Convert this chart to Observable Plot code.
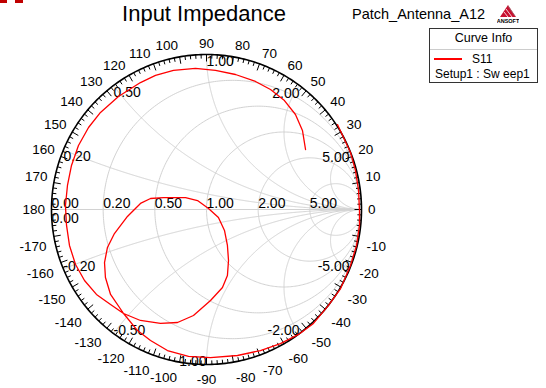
<!DOCTYPE html>
<html><head><meta charset="utf-8">
<script src="https://cdn.jsdelivr.net/npm/d3@7"></script>
<script src="https://cdn.jsdelivr.net/npm/@observablehq/plot@0.6"></script>
<style>
body{margin:0;background:#fff;font-family:"Liberation Sans",Arial,sans-serif;}
#wrap{position:relative;width:546px;height:388px;overflow:hidden;background:#fff;}
#wrap svg.plot{position:absolute;left:0;top:0;}
.abs{position:absolute;white-space:nowrap;color:#000;}
</style></head><body>
<div id="wrap">
  <div class="abs" style="left:0;top:0;width:7px;height:3px;background:#c00000;"></div>
  <div class="abs" style="left:15px;top:0;width:8px;height:3px;background:#c00000;"></div>
  <div class="abs" id="title" style="left:104px;top:3px;width:200px;text-align:center;font-size:22px;line-height:22px;"></div>
  <div class="abs" id="proj" style="left:352px;top:7px;font-size:14.5px;line-height:14px;"></div>
  <div class="abs" style="left:497px;top:4px;width:22px;height:20px;">
    <svg width="22" height="20" viewBox="0 0 22 20">
      <polygon points="11,1 19,13 3,13" fill="#c8102e"/>
      <line x1="9" y1="5" x2="15" y2="13" stroke="#fff" stroke-width="0.8"/>
      <line x1="7" y1="8" x2="11" y2="13" stroke="#fff" stroke-width="0.8"/>
      <line x1="11" y1="2" x2="18" y2="12" stroke="#888" stroke-width="0.6"/>
      <text x="11" y="19" text-anchor="middle" font-size="5.5" font-weight="bold" font-family="Liberation Sans, Arial">ANSOFT</text>
    </svg>
  </div>
  <div class="abs" style="left:429px;top:28px;width:109px;height:55px;box-sizing:border-box;border:1px solid #333;">
    <div class="abs" id="lgHead" style="left:0;top:2px;width:107px;text-align:center;font-size:12.5px;line-height:14px;"></div>
    <div class="abs" style="left:0;top:20px;width:107px;height:1px;background:#ccc;"></div>
    <div class="abs" style="left:4px;top:29px;width:28px;height:2px;background:#ff0000;"></div>
    <div class="abs" id="lgName" style="left:42px;top:23px;font-size:12px;line-height:14px;"></div>
    <div class="abs" id="lgSetup" style="left:5px;top:38px;font-size:12px;line-height:14px;"></div>
  </div>
</div>
<script>
// ---- data ----
const titleText = "Input Impedance";
const projectText = "Patch_Antenna_A12";
const legendHead = "Curve Info";
const seriesName = "S11";
const setupName = "Setup1 : Sw eep1";

const rValues = [0, 0.2, 0.5, 1, 2, 5];
const rLabels = ["0.00", "0.20", "0.50", "1.00", "2.00", "5.00"];
const xValues = [0.2, 0.5, 1, 2, 5, -0.2, -0.5, -1, -2, -5];
const xLabels = ["0.20", "0.50", "1.00", "2.00", "5.00", "-0.20", "-0.50", "-1.00", "-2.00", "-5.00"];
const angleValues = [0,10,20,30,40,50,60,70,80,90,100,110,120,130,140,150,160,170,180,
  -10,-20,-30,-40,-50,-60,-70,-80,-90,-100,-110,-120,-130,-140,-150,-160,-170];

const traceRe = [0.639,0.619,0.574,0.503,0.413,0.316,0.187,0.058,-0.071,-0.213,
  -0.329,-0.426,-0.568,-0.684,-0.761,-0.826,-0.871,-0.897,-0.910,-0.903,
  -0.884,-0.845,-0.787,-0.710,-0.619,-0.535,
  -0.426,-0.297,-0.187,-0.084,0.026,0.103,0.135,0.142,0.135,0.116,
  0.077,0.013,-0.058,-0.135,-0.277,-0.361,-0.426,-0.510,-0.594,-0.639,
  -0.658,-0.652,-0.619,-0.535,
  -0.445,-0.361,-0.252,-0.116,0.026,0.200,0.348,0.477,0.594,0.690,
  0.787,0.865,0.929,0.968,0.987,0.987,0.981,0.961,0.929,0.884,0.845];
const traceIm = [0.387,0.510,0.613,0.703,0.774,0.826,0.871,0.897,0.910,0.897,
  0.865,0.819,0.729,0.626,0.529,0.413,0.284,0.155,0.026,-0.103,
  -0.232,-0.355,-0.458,-0.548,-0.613,-0.671,
  -0.716,-0.735,-0.729,-0.684,-0.587,-0.503,-0.426,-0.329,-0.232,-0.135,
  -0.052,0.006,0.058,0.077,0.077,0.071,0.039,-0.045,-0.155,-0.245,
  -0.342,-0.439,-0.548,-0.671,
  -0.781,-0.845,-0.910,-0.948,-0.955,-0.942,-0.910,-0.865,-0.806,-0.735,
  -0.619,-0.510,-0.361,-0.232,-0.103,-0.006,0.123,0.252,0.368,0.465,0.548];

// ---- text ----
document.getElementById("title").textContent = titleText;
document.getElementById("proj").textContent = projectText;
document.getElementById("lgHead").textContent = legendHead;
document.getElementById("lgName").textContent = seriesName;
document.getElementById("lgSetup").textContent = setupName;

// ---- geometry helpers ----
const PX = 155; // pixels per unit of |Gamma|
function gamma(r, x) {
  const d = (r + 1) * (r + 1) + x * x;
  return [(r * r + x * x - 1) / d, 2 * x / d];
}
const grid = [];
rValues.filter(r => r > 0).forEach(r => {
  const c = r / (1 + r), rad = 1 / (1 + r);
  for (let i = 0; i <= 360; i++) {
    const t = i * Math.PI / 180;
    grid.push({id: "r" + r, x: c + rad * Math.cos(t), y: rad * Math.sin(t)});
  }
});
xValues.forEach(xv => {
  for (let i = 0; i <= 400; i++) {
    const v = i / 400 * Math.PI / 2;
    const r = i === 400 ? 1e9 : Math.tan(v);
    const [gx, gy] = gamma(r, xv);
    grid.push({id: "x" + xv, x: gx, y: gy});
  }
});
grid.push({id: "axis", x: -1, y: 0}, {id: "axis", x: 1, y: 0});

const outer = d3.range(0, 361, 1).map(a => ({x: Math.cos(a * Math.PI / 180), y: Math.sin(a * Math.PI / 180)}));
const ticks = d3.range(-178, 181, 2).map(a => {
  const t = a * Math.PI / 180, L = (a % 10 === 0 ? 7 : 4) / PX;
  return {x1: Math.cos(t), y1: Math.sin(t), x2: (1 - L) * Math.cos(t), y2: (1 - L) * Math.sin(t)};
});

const fs = 13.5;
const sgn = v => (Math.abs(v) < 0.01 ? 0 : Math.sign(v));
const angleLab = angleValues.map(a => {
  const s = String(a);
  const w = [...s].reduce((acc, ch) => acc + (ch === "-" ? 0.333 : 0.556) * fs, 0);
  const t = a * Math.PI / 180;
  const c = Math.cos(t), sn = Math.sin(t);
  const P = 1 + 6 / PX;
  const ox = sgn(c) * (w / 2 + (sn < -0.01 ? 1.5 : 0.5));
  const oy = sgn(sn) > 0 ? 4.8 : (sgn(sn) < 0 ? -9.5 : 0);
  return {x: P * c + ox / PX, y: P * sn + oy / PX, label: s};
});

const rLab = rValues.map((r, i) => ({x: (r - 1) / (r + 1), y: 0, label: rLabels[i]}));
const xLab = xValues.map((xv, i) => {
  const [gx, gy] = gamma(0, xv);
  return {x: gx, y: gy, label: xLabels[i], pos: xv > 0, start: xv > 0 ? xv <= 1 : xv > -1};
});

const trace = traceRe.map((re, i) => ({x: re, y: traceIm[i]}));
const font = "Liberation Sans, Arial, sans-serif";

const chart = Plot.plot({
  width: 546, height: 388, margin: 0,
  x: {domain: [-1, 1], range: [51, 361], axis: null},
  y: {domain: [-1, 1], range: [364, 54], axis: null},
  style: {background: "transparent", fontFamily: font},
  marks: [
    Plot.line(grid, {x: "x", y: "y", z: "id", stroke: "#d2d2d2", strokeWidth: 1}),
    Plot.line(outer, {x: "x", y: "y", stroke: "#000", strokeWidth: 1.6}),
    Plot.link(ticks, {x1: "x1", y1: "y1", x2: "x2", y2: "y2", stroke: "#000", strokeWidth: 1}),
    Plot.text(angleLab, {x: "x", y: "y", text: "label", fontSize: fs, fill: "#000"}),
    Plot.text(rLab, {x: "x", y: "y", text: "label", textAnchor: "start", dy: -6, fontSize: 14, fill: "#000"}),
    Plot.text(rLab.slice(0, 1), {x: "x", y: "y", text: "label", textAnchor: "start", dy: 9, fontSize: 14, fill: "#000"}),
    Plot.text(xLab.filter(d => d.pos && d.start), {x: "x", y: "y", text: "label", textAnchor: "start", dy: 7, fontSize: 14, fill: "#000"}),
    Plot.text(xLab.filter(d => d.pos && !d.start), {x: "x", y: "y", text: "label", textAnchor: "end", dy: 8, fontSize: 14, fill: "#000"}),
    Plot.text(xLab.filter(d => !d.pos && d.start), {x: "x", y: "y", text: "label", textAnchor: "start", dy: -3, fontSize: 14, fill: "#000"}),
    Plot.text(xLab.filter(d => !d.pos && !d.start), {x: "x", y: "y", text: "label", textAnchor: "end", dy: -3, fontSize: 14, fill: "#000"}),
    Plot.line(trace, {x: "x", y: "y", stroke: "#ff0000", strokeWidth: 1.3})
  ]
});
chart.classList.add("plot");
document.getElementById("wrap").prepend(chart);
</script>
</body></html>
